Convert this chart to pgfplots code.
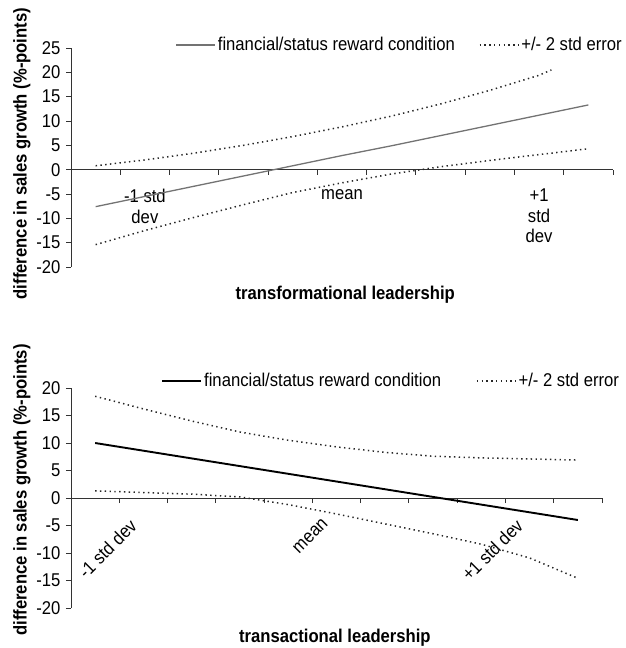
\documentclass[border=0pt]{standalone}
\usepackage{pgfplots}
\pgfplotsset{compat=1.18}
\usepackage{fontspec}
\setmainfont[FakeStretch=0.9]{Liberation Sans}
\newcommand\myfont{\fontsize{18.5}{20.5}\selectfont}
\pgfplotsset{
  myaxis/.style={
    scale only axis,
    axis x line=middle, axis y line=left,
    axis line style={-, black!80, line width=0.9pt},
    hide obscured x ticks=false, hide obscured y ticks=false,
    xmin=0.5, xmax=11.5,
    xtick={0.5,1.5,...,11.5},
    xticklabels={},
    tick align=outside,
    major tick length=5pt,
    every tick/.style={black!80, line width=0.9pt},
    font=\myfont,
    ticklabel style={font=\myfont},
    yticklabel style={xshift=-2pt},
    extra x tick style={major tick length=0pt},
    legend columns=2,
    legend cell align=left,
    legend image code/.code={\draw[##1] (0pt,0pt) -- (39pt,0pt);},
  },
  solidA/.style={color=black!55, line width=1.3pt},
  solidB/.style={color=black, line width=1.9pt},
  dotline/.style={color=black!85, line width=1.5pt, dash pattern=on 1.4pt off 3.4pt},
}
\begin{document}
\begin{tikzpicture}
\useasboundingbox (0pt,0pt) rectangle (625pt,-648pt);
% ---------- top panel ----------
\begin{axis}[myaxis,
  at={(71pt,-267pt)}, anchor=south west,
  width=542pt, height=219pt,
  ymin=-20, ymax=25,
  ytick={-20,-15,...,25},
  yticklabels={-20,-15,-10,-5,0,5,10,15,20,25},
  extra x ticks={2,6,10},
  extra x tick labels={{-1 std\\dev},{mean},{+1\\std\\dev}},
  extra x tick style={xticklabel style={align=center, anchor=north, yshift=-16pt}},
  every axis x label/.style={at={(axis description cs:0.506,-0.128)}, anchor=center, font=\myfont\bfseries},
  every axis y label/.style={at={(axis description cs:-0.0904,0.518)}, rotate=90, anchor=center, font=\myfont\bfseries},
  xlabel={transformational leadership},
  ylabel={difference in sales growth (\%-points)},
  legend style={draw=none, fill=none, inner sep=0pt, outer sep=0pt,
    at={(axis description cs:0.193,1.014)}, anchor=west,
    nodes={inner sep=2pt},
    /tikz/every even column/.append style={column sep=22pt}},
]
\addplot[solidA] coordinates {(1,-7.6)(2,-5.5)(3,-3.4)(4,-1.3)(5,0.8)(6,2.9)(7,4.9)(8,7.0)(9,9.1)(10,11.2)(11,13.3)};
\addlegendentry{financial/status reward condition}
\addplot[dotline] coordinates {(1,0.8)(2,2.0)(3,3.4)(4,5.0)(5,6.8)(6,8.8)(7,11.0)(8,13.5)(9,16.3)(10,19.4)(10.25,20.5)};
\addlegendentry{+/- 2 std error}
\addplot[dotline, forget plot] coordinates {(1,-15.4)(2,-12.5)(3,-9.8)(4,-7.2)(5,-4.7)(6,-2.7)(7,-0.9)(8,0.6)(9,1.9)(10,3.1)(11,4.3)};
\end{axis}
% ---------- bottom panel ----------
\begin{axis}[myaxis,
  at={(71pt,-608pt)}, anchor=south west,
  width=531pt, height=220pt,
  ymin=-20, ymax=20,
  ytick={-20,-15,...,20},
  yticklabels={-20,-15,-10,-5,0,5,10,15,20},
  extra x ticks={2,6,10},
  extra x tick labels={{-1 std dev},{mean},{+1 std dev}},
  extra x tick style={xticklabel style={rotate=45, anchor=north east, xshift=-21pt, yshift=0pt}},
  every axis x label/.style={at={(axis description cs:0.497,-0.136)}, anchor=center, font=\myfont\bfseries},
  every axis y label/.style={at={(axis description cs:-0.0923,0.536)}, rotate=90, anchor=center, font=\myfont\bfseries},
  xlabel={transactional leadership},
  ylabel={difference in sales growth (\%-points)},
  legend style={draw=none, fill=none, inner sep=0pt, outer sep=0pt,
    at={(axis description cs:0.17,1.032)}, anchor=west,
    nodes={inner sep=2pt},
    /tikz/every even column/.append style={column sep=33pt}},
]
\addplot[solidB] coordinates {(1,10.0)(2,8.6)(3,7.2)(4,5.8)(5,4.4)(6,3.0)(7,1.6)(8,0.2)(9,-1.2)(10,-2.6)(11,-4.0)};
\addlegendentry{financial/status reward condition}
\addplot[dotline] coordinates {(1,18.5)(2,16.2)(3,14.0)(4,12.0)(5,10.5)(6,9.3)(7,8.3)(8,7.6)(9,7.3)(10,7.1)(11,6.9)};
\addlegendentry{+/- 2 std error}
\addplot[dotline, forget plot] coordinates {(1,1.3)(2,1.0)(3,0.7)(4,0.2)(5,-1.2)(6,-2.9)(7,-4.7)(8,-6.5)(9,-8.4)(10,-10.9)(11,-14.6)};
\end{axis}
\end{tikzpicture}
\end{document}
